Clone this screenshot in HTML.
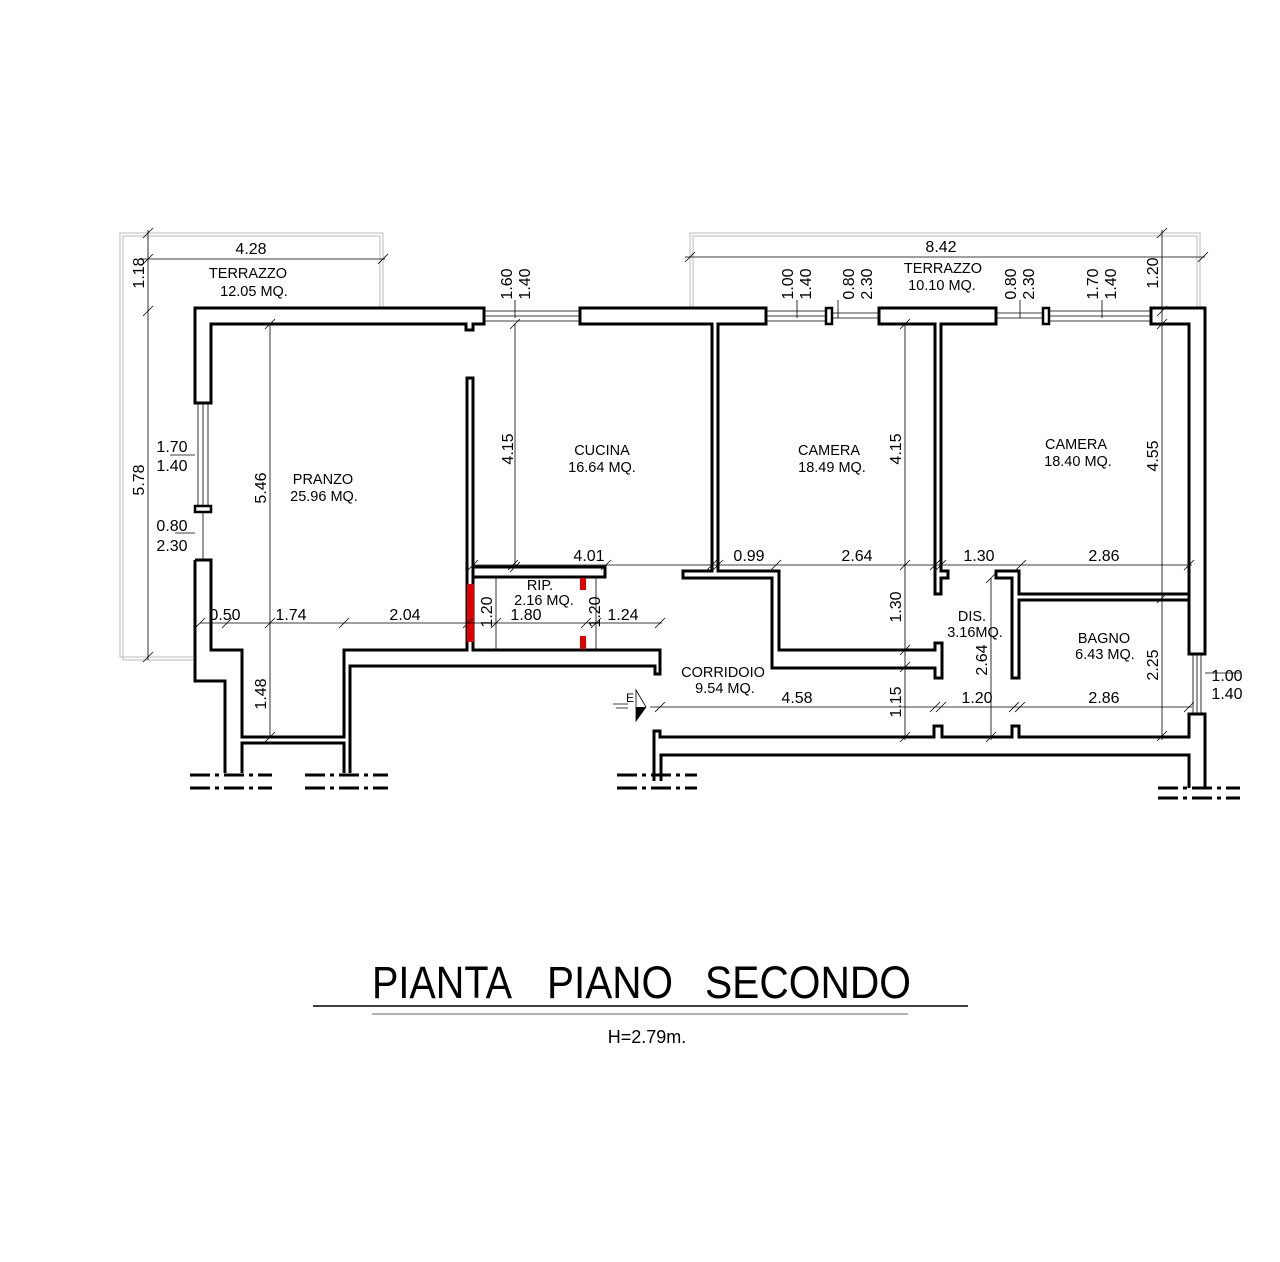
<!DOCTYPE html>
<html><head><meta charset="utf-8"><style>
html,body{margin:0;padding:0;background:#fff;}
svg{display:block;}
text{font-family:"Liberation Sans",sans-serif;fill:#000;}
.w{fill:none;stroke:#000;stroke-width:3;stroke-linejoin:miter;}
.t{fill:none;stroke:#000;stroke-width:0.8;}
.g{fill:none;stroke:#bbb;stroke-width:1;}
.d{font-size:16px;}
.r{font-size:14.5px;}
</style></head><body>
<svg width="1280" height="1262" viewBox="0 0 1280 1262" xmlns="http://www.w3.org/2000/svg">
<path class="g" d="M193,657 H120 V233 H383 V308 M193,660 H123 V236 H380 V308"/>
<path class="g" d="M690,308 V233 H1200 V308 M693,308 V236 H1197 V308"/>

<path class="w" d="M484,308 H195 V403 H211 V324 H466 V330 H473 V324 H484 Z"/>
<path class="t" d="M484,311 H580 M484,316 H580 M484,321 H580"/>
<path class="t" d="M198,403 V506 M203,403 V506 M208,403 V506"/>
<rect class="w" x="195" y="506" width="16" height="6" style="stroke-width:2.5"/>
<path class="t" d="M203,512 V560"/>
<path class="w" d="M195,560 H211 V650 H242 V737 H344 V650 H467 V378 H473 V650 H660 V674 H655 V666 H350 V773"/>
<path class="w" d="M344,773 V743 H242 V773"/>
<path class="w" d="M225,773 V681 H195 V560"/>
<path class="w" d="M473,567 H605 V577 H473"/>
<rect x="467" y="584" width="7" height="58" fill="#e00000"/>
<rect x="580" y="578" width="6" height="12" fill="#e00000"/>
<rect x="580" y="636" width="6" height="13" fill="#e00000"/>
<path class="w" d="M580,308 H766 V324 H718 V571 H779 V650 H935 V643 H942 V678 H935 V668 H772 V578 H683 V571 H712 V324 H580 Z"/>
<path class="t" d="M766,311 H826 M766,316 H826 M766,321 H826"/>
<rect class="w" x="826" y="308" width="6" height="16" style="stroke-width:2.5"/>
<path class="t" d="M832,313 H879 M832,318 H879"/>
<path class="w" d="M879,308 H996 V324 H941 V571 H948 V578 H941 V594 H935 V324 H879 Z"/>
<path class="t" d="M996,313 H1043 M996,318 H1043"/>
<rect class="w" x="1043" y="308" width="6" height="16" style="stroke-width:2.5"/>
<path class="t" d="M1049,311 H1151 M1049,316 H1151 M1049,321 H1151"/>
<path class="w" d="M1151,308 H1205 V654 H1189 V324 H1151 Z"/>
<path class="t" d="M1193,654 V714 M1197,654 V714 M1201,654 V714"/>
<path class="w" d="M1189,788 V755 H661 V781 M654,781 V731 H660 V737 H934 V726 H942 V737 H1012 V726 H1019 V737 H1189 V714 H1205 V788"/>
<path class="w" d="M996,571 H1019 V594 H1189 V600 H1019 V678 H1012 V578 H996 Z"/>

<g stroke="#000" stroke-width="3">
<path d="M190,775 H210 M215,775 H219 M224,775 H244 M249,775 H253 M258,775 H272 M190,788 H210 M215,788 H219 M224,788 H244 M249,788 H253 M258,788 H272"/>
<path d="M305,775 H325 M330,775 H334 M339,775 H359 M364,775 H368 M373,775 H388 M305,788 H325 M330,788 H334 M339,788 H359 M364,788 H368 M373,788 H388"/>
<path d="M617,775 H637 M642,775 H646 M651,775 H671 M676,775 H680 M685,775 H697 M617,788 H637 M642,788 H646 M651,788 H671 M676,788 H680 M685,788 H697"/>
<path d="M1158,788 H1178 M1183,788 H1187 M1192,788 H1212 M1217,788 H1221 M1226,788 H1240 M1158,798 H1178 M1183,798 H1187 M1192,798 H1212 M1217,798 H1221 M1226,798 H1240"/>
</g>

<g class="t">
<path d="M140,259 H385 M148,230 V660"/>
<path d="M685,257 H1205 M1162,230 V740"/>
<path d="M270,324 V737 M515,324 V567 M905,324 V740 M991,578 V740"/>
<path d="M200,623 H662 M473,565 H1192 M650,707 H1192"/>
<path d="M496,578 V650 M596,578 V650"/>
<path d="M170,455 H195 M175,533 H195 M515,318 V300 M797,318 V300 M838,318 V300 M1020,318 V300 M1102,318 V300 M1205,673 H1240"/>
<path d="M143,238 L153,228 M143,316 L153,306 M143,662 L153,652 M143,264 L153,254 M378,264 L388,254 M685,262 L695,252 M1198,262 L1208,252 M1157,238 L1167,228 M1157,316 L1167,306 M1157,329 L1167,319 M1157,603 L1167,593 M1157,741 L1167,731"/>
<path d="M265,329 L275,319 M265,742 L275,732 M510,329 L520,319 M510,572 L520,562 M900,329 L910,319 M900,570 L910,560 M900,655 L910,645 M900,672 L910,662 M900,742 L910,732 M986,583 L996,573 M986,742 L996,732"/>
<path d="M195,628 L205,618 M222,628 L232,618 M265,628 L275,618 M339,628 L349,618 M463,628 L473,618 M491,628 L501,618 M581,628 L591,618 M591,628 L601,618 M655,628 L665,618"/>
<path d="M468,570 L478,560 M508,570 L518,560 M601,570 L611,560 M707,570 L717,560 M713,570 L723,560 M771,570 L781,560 M930,570 L940,560 M936,570 L946,560 M1016,570 L1026,560 M1184,570 L1194,560"/>
<path d="M655,712 L665,702 M930,712 L940,702 M936,712 L946,702 M1009,712 L1019,702 M1015,712 L1025,702 M1184,712 L1194,702"/>
</g>

<path d="M613,704 H628 M616,708 H628" stroke="#000" stroke-width="0.8"/>
<text x="626" y="702" style="font-size:12px">E</text>
<path d="M636,690 L646,707 L636,721 Z" fill="none" stroke="#000" stroke-width="0.8"/>
<path d="M636,707 L646,707 L636,721 Z" fill="#000"/>

<g class="r" text-anchor="middle">
<text x="248" y="278">TERRAZZO</text><text x="254" y="296">12.05  MQ.</text>
<text x="943" y="273">TERRAZZO</text><text x="942" y="290">10.10  MQ.</text>
<text x="323" y="484">PRANZO</text><text x="324" y="501">25.96  MQ.</text>
<text x="602" y="455">CUCINA</text><text x="602" y="472">16.64  MQ.</text>
<text x="829" y="455">CAMERA</text><text x="832" y="472">18.49  MQ.</text>
<text x="1076" y="449">CAMERA</text><text x="1078" y="466">18.40  MQ.</text>
<text x="540" y="590">RIP.</text><text x="544" y="605">2.16  MQ.</text>
<text x="972" y="621">DIS.</text><text x="975" y="637">3.16MQ.</text>
<text x="1104" y="643">BAGNO</text><text x="1105" y="659">6.43  MQ.</text>
<text x="723" y="677">CORRIDOIO</text><text x="725" y="693">9.54  MQ.</text>
</g>

<g class="d" text-anchor="middle">
<text x="251" y="254">4.28</text>
<text x="941" y="252">8.42</text>
<text x="172" y="452">1.70</text><text x="172" y="471">1.40</text>
<text x="172" y="531">0.80</text><text x="172" y="551">2.30</text>
<text x="225" y="620">0.50</text><text x="291" y="620">1.74</text><text x="405" y="620">2.04</text>
<text x="526" y="620">1.80</text><text x="623" y="620">1.24</text>
<text x="589" y="561">4.01</text>
<text x="749" y="561">0.99</text><text x="857" y="561">2.64</text>
<text x="979" y="561">1.30</text><text x="1104" y="561">2.86</text>
<text x="797" y="703">4.58</text><text x="977" y="703">1.20</text><text x="1104" y="703">2.86</text>
<text x="1227" y="681">1.00</text><text x="1227" y="699">1.40</text>
</g>
<g class="d" text-anchor="middle">
<text transform="translate(144,273) rotate(-90)">1.18</text>
<text transform="translate(144,480) rotate(-90)">5.78</text>
<text transform="translate(266,488) rotate(-90)">5.46</text>
<text transform="translate(266,694) rotate(-90)">1.48</text>
<text transform="translate(513,449) rotate(-90)">4.15</text>
<text transform="translate(901,449) rotate(-90)">4.15</text>
<text transform="translate(901,607) rotate(-90)">1.30</text>
<text transform="translate(901,702) rotate(-90)">1.15</text>
<text transform="translate(987,660) rotate(-90)">2.64</text>
<text transform="translate(1158,456) rotate(-90)">4.55</text>
<text transform="translate(1158,665) rotate(-90)">2.25</text>
<text transform="translate(1158,273) rotate(-90)">1.20</text>
<text transform="translate(492,612) rotate(-90)">1.20</text>
<text transform="translate(600,612) rotate(-90)">1.20</text>
<text transform="translate(512,284) rotate(-90)">1.60</text>
<text transform="translate(530,284) rotate(-90)">1.40</text>
<text transform="translate(793,284) rotate(-90)">1.00</text>
<text transform="translate(811,284) rotate(-90)">1.40</text>
<text transform="translate(854,284) rotate(-90)">0.80</text>
<text transform="translate(872,284) rotate(-90)">2.30</text>
<text transform="translate(1016,284) rotate(-90)">0.80</text>
<text transform="translate(1034,284) rotate(-90)">2.30</text>
<text transform="translate(1098,284) rotate(-90)">1.70</text>
<text transform="translate(1116,284) rotate(-90)">1.40</text>
</g>

<g style="font-size:45px;">
<text x="372" y="998" textLength="140" lengthAdjust="spacingAndGlyphs">PIANTA</text>
<text x="547" y="998" textLength="126" lengthAdjust="spacingAndGlyphs">PIANO</text>
<text x="705" y="998" textLength="206" lengthAdjust="spacingAndGlyphs">SECONDO</text>
</g>
<path d="M313,1006 H968" stroke="#000" stroke-width="1.5"/>
<path d="M372,1014 H908" stroke="#999" stroke-width="1.5"/>
<text x="647" y="1043" text-anchor="middle" style="font-size:18px;">H=2.79m.</text>
</svg>
</body></html>
